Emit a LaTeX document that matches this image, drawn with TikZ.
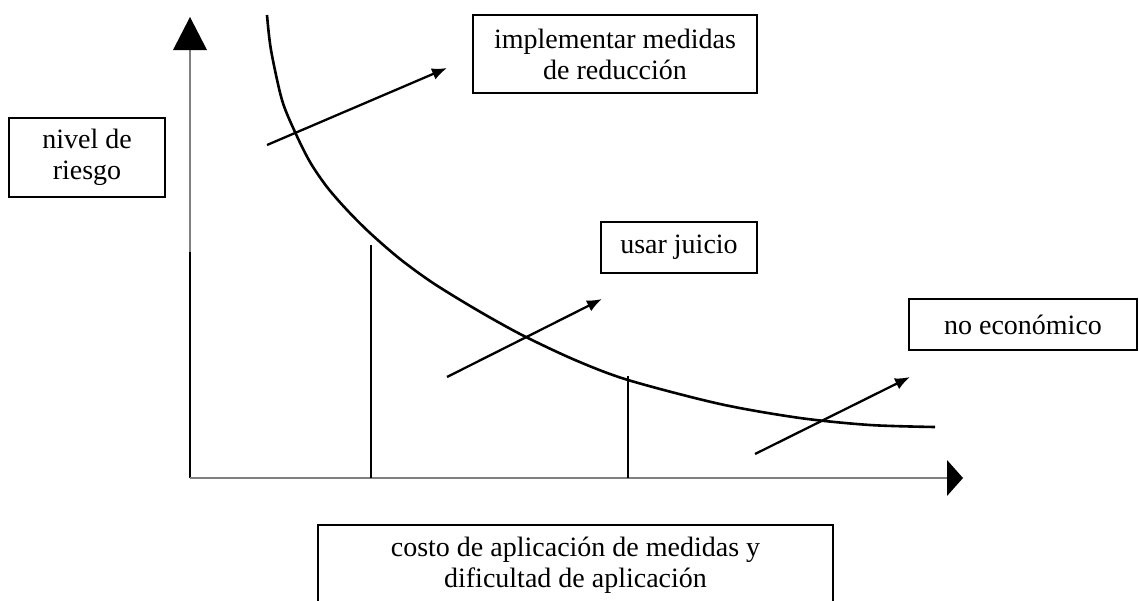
\documentclass[tikz,border=0pt]{standalone}
\usepackage{fontspec}
\setmainfont{Liberation Serif}
\usetikzlibrary{arrows.meta}
\begin{document}
\begin{tikzpicture}[x=1pt,y=-1pt,
  box/.style={draw, line width=2pt, align=center, inner sep=0pt, font=\fontsize{28}{31}\selectfont},
  ln/.style={line width=2.2pt},
  axisgray/.style={line width=2.8pt, draw=black!50},
  arr/.style={line width=2.3pt, -{Latex[length=15pt,width=12pt]}},
  ]
\useasboundingbox (0,0) rectangle (1139,600);
\clip (0,0) rectangle (1139,600);

% axes
\coordinate (origin) at (190,478);
\coordinate (ymid) at (190,252);
\coordinate (ybase) at (190,50);
\coordinate (ytop) at (190,17);
\coordinate (xbase) at (947,478);
\coordinate (xtip) at (963,478);
\draw[axisgray] (ybase) -- (ymid);
\draw[ln] (ymid) -- (origin);
\draw[axisgray] (origin) -- (xbase);
\fill (ytop) -- ++(-17,33) -- ++(34,0) -- cycle;
\fill (xtip) -- ++(-16,-18) -- ++(0,36) -- cycle;

% curve
\draw[line width=2.6pt] plot[smooth, tension=0.5] coordinates
  {(267,15) (271,50) (282,100) (295,132) (310,162) (327,187) (347,210)
   (370,233) (400,259) (433,283) (477,310) (522,335) (575,360) (628,380)
   (720,404) (800,418) (870,425) (935,427)};

% vertical separators
\coordinate (v1top) at (371,245);
\coordinate (v1bot) at (371,478);
\coordinate (v2top) at (628,376);
\coordinate (v2bot) at (628,478);
\draw[ln] (v1top) -- (v1bot);
\draw[ln] (v2top) -- (v2bot);

% arrows
\coordinate (a1s) at (267,145);
\coordinate (a1e) at (447,68);
\coordinate (a2s) at (447,377);
\coordinate (a2e) at (602,299);
\coordinate (a3s) at (755,454);
\coordinate (a3e) at (910,377);
\draw[arr] (a1s) -- (a1e);
\draw[arr] (a2s) -- (a2e);
\draw[arr] (a3s) -- (a3e);

% labels
\node[box, minimum width=156pt, minimum height=79pt] (nivel) at (87,157.5) {nivel de\\riesgo};
\node[box, minimum width=284pt, minimum height=78pt] (impl) at (615,54) {implementar medidas\\de reducción};
\node[box, minimum width=156pt, minimum height=51pt] (juicio) at (679,247.5) {usar juicio};
\node[box, minimum width=228pt, minimum height=51pt] (noeco) at (1023,324.5) {no económico};
\node[box, minimum width=515pt, minimum height=80pt] (costo) at (575.5,565) {costo de aplicación de medidas y\\dificultad de aplicación};
\end{tikzpicture}
\end{document}
